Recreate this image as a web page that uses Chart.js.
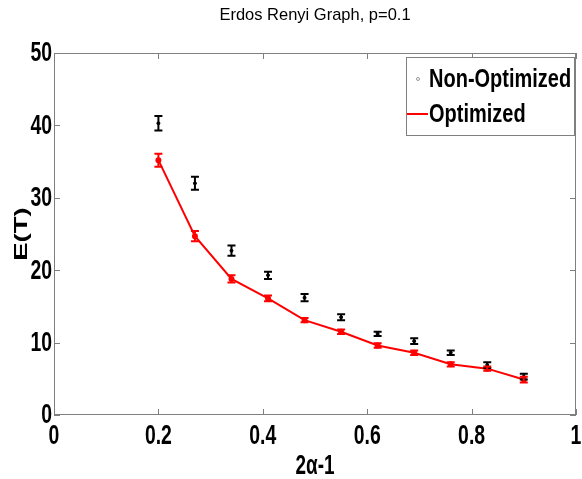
<!DOCTYPE html>
<html>
<head>
<meta charset="utf-8">
<script src="https://cdn.jsdelivr.net/npm/chart.js@4"></script>
<style>
  html, body { margin: 0; padding: 0; background: #fff; }
  #wrap { width: 582px; height: 479px; }
</style>
</head>
<body>
<div id="wrap"><canvas id="myChart" width="582" height="479"></canvas></div>
<script>
const alphaVals = [0.2, 0.27, 0.34, 0.41, 0.48, 0.55, 0.62, 0.69, 0.76, 0.83, 0.9];
const nonOptimized = [40.3, 32.0, 22.7, 19.3, 16.2, 13.5, 11.2, 10.2, 8.6, 6.9, 5.3];
const nonOptimizedErr = [1.0, 0.9, 0.7, 0.5, 0.5, 0.4, 0.3, 0.4, 0.3, 0.4, 0.4];
const optimized = [35.2, 24.7, 18.8, 16.1, 13.1, 11.5, 9.6, 8.6, 7.0, 6.4, 4.9];
const optimizedErr = [0.9, 0.7, 0.5, 0.4, 0.3, 0.3, 0.3, 0.3, 0.3, 0.3, 0.4];
const xTicks = [0, 0.2, 0.4, 0.6, 0.8, 1];
const yTicks = [0, 10, 20, 30, 40, 50];
const chartTitle = "Erdos Renyi Graph, p=0.1";
const xTitle = "2α-1";
const yTitle = "E(T)";

const sans = "'Liberation Sans', Arial, sans-serif";

// text squeezed or stretched sideways, to mimic the narrow matlab font
function drawText(ctx, s, x, y, font, sx, align, rot) {
  ctx.save();
  ctx.translate(x, y);
  if (rot) ctx.rotate(rot);
  ctx.scale(sx, 1);
  ctx.font = font;
  ctx.textAlign = align;
  ctx.textBaseline = "middle";
  ctx.fillText(s, 0, 0);
  ctx.restore();
}

const matlabLook = {
  id: "matlabLook",
  afterDatasetsDraw(chart) {
    const ctx = chart.ctx;
    const ys = chart.scales.y;
    chart.data.datasets.forEach((ds, di) => {
      const meta = chart.getDatasetMeta(di);
      ctx.save();
      ctx.strokeStyle = ds.borderColor;
      ctx.lineWidth = 2;
      meta.data.forEach((pt, i) => {
        const v = ds.data[i].y;
        const e = ds.errs[i];
        const top = ys.getPixelForValue(v + e);
        const bot = ys.getPixelForValue(v - e);
        ctx.beginPath();
        ctx.moveTo(pt.x, top); ctx.lineTo(pt.x, bot);
        ctx.moveTo(pt.x - 4, top); ctx.lineTo(pt.x + 4, top);
        ctx.moveTo(pt.x - 4, bot); ctx.lineTo(pt.x + 4, bot);
        ctx.stroke();
      });
      ctx.restore();
    });
  },
  afterDraw(chart) {
    const ctx = chart.ctx;
    const a = chart.chartArea;
    const xs = chart.scales.x, ys = chart.scales.y;
    ctx.save();
    ctx.strokeStyle = "#7f7f7f";
    ctx.lineWidth = 1;
    ctx.strokeRect(a.left + 0.5, a.top + 0.5, a.right - a.left - 1, a.bottom - a.top - 1);
    ctx.beginPath();
    xTicks.forEach((t) => {
      const px = Math.round(xs.getPixelForValue(t)) + 0.5;
      ctx.moveTo(px, a.bottom); ctx.lineTo(px, a.bottom - 6);
      ctx.moveTo(px, a.top); ctx.lineTo(px, a.top + 6);
    });
    yTicks.forEach((t) => {
      const py = Math.round(ys.getPixelForValue(t)) + 0.5;
      ctx.moveTo(a.left, py); ctx.lineTo(a.left + 6, py);
      ctx.moveTo(a.right, py); ctx.lineTo(a.right - 6, py);
    });
    ctx.stroke();

    ctx.fillStyle = "#000";
    const tickFont = "bold 27px " + sans;
    xTicks.forEach((t) => {
      drawText(ctx, String(t), xs.getPixelForValue(t), a.bottom + 22, tickFont, 0.72, "center");
    });
    yTicks.forEach((t) => {
      drawText(ctx, String(t), a.left - 2, ys.getPixelForValue(t) + 1, tickFont, 0.72, "right");
    });
    drawText(ctx, xTitle, (a.left + a.right) / 2, a.bottom + 52, "bold 27px " + sans, 0.7, "center");
    drawText(ctx, yTitle, 22, (a.top + a.bottom) / 2, "bold 19px " + sans, 1.45, "center", -Math.PI / 2);
    drawText(ctx, chartTitle, (a.left + a.right) / 2, 15, "17px " + sans, 0.97, "center");

    // legend
    const lx = a.right - 170, ly = a.top + 4, lw = 168, lh = 78;
    ctx.fillStyle = "#fff";
    ctx.fillRect(lx, ly, lw, lh);
    ctx.strokeRect(lx + 0.5, ly + 0.5, lw, lh);
    ctx.fillStyle = "#000";
    drawText(ctx, chart.data.datasets[0].label, lx + 23, ly + 23, "bold 25px " + sans, 0.8, "left");
    drawText(ctx, chart.data.datasets[1].label, lx + 23, ly + 58, "bold 25px " + sans, 0.8, "left");
    ctx.strokeStyle = "#999";
    ctx.beginPath();
    ctx.arc(lx + 12, ly + 22, 1.5, 0, Math.PI * 2);
    ctx.stroke();
    ctx.strokeStyle = "red";
    ctx.lineWidth = 2;
    ctx.beginPath();
    ctx.moveTo(lx + 1, ly + 57); ctx.lineTo(lx + 22, ly + 57);
    ctx.stroke();
    ctx.restore();
  }
};

new Chart(document.getElementById("myChart"), {
  type: "line",
  data: {
    datasets: [
      {
        label: "Non-Optimized",
        data: alphaVals.map((x, i) => ({ x: x, y: nonOptimized[i] })),
        errs: nonOptimizedErr,
        showLine: false,
        borderColor: "#000",
        backgroundColor: "#000",
        pointRadius: 1.5,
      },
      {
        label: "Optimized",
        data: alphaVals.map((x, i) => ({ x: x, y: optimized[i] })),
        errs: optimizedErr,
        borderColor: "#ff0000",
        backgroundColor: "#ff0000",
        borderWidth: 2,
        pointRadius: 2,
        tension: 0,
      },
    ],
  },
  options: {
    responsive: false,
    animation: false,
    layout: { padding: { left: 0, right: 5, top: 53, bottom: 0 } },
    plugins: {
      legend: { display: false },
      tooltip: { enabled: false },
      title: { display: false },
    },
    scales: {
      x: {
        type: "linear",
        min: 0,
        max: 1,
        afterBuildTicks: (s) => { s.ticks = xTicks.map((v) => ({ value: v })); },
        afterFit: (s) => { s.height = 64; },
        grid: { display: false },
        border: { display: false },
        ticks: { display: false },
      },
      y: {
        min: 0,
        max: 50,
        afterBuildTicks: (s) => { s.ticks = yTicks.map((v) => ({ value: v })); },
        afterFit: (s) => { s.width = 54; },
        grid: { display: false },
        border: { display: false },
        ticks: { display: false },
      },
    },
  },
  plugins: [matlabLook],
});
</script>
</body>
</html>
